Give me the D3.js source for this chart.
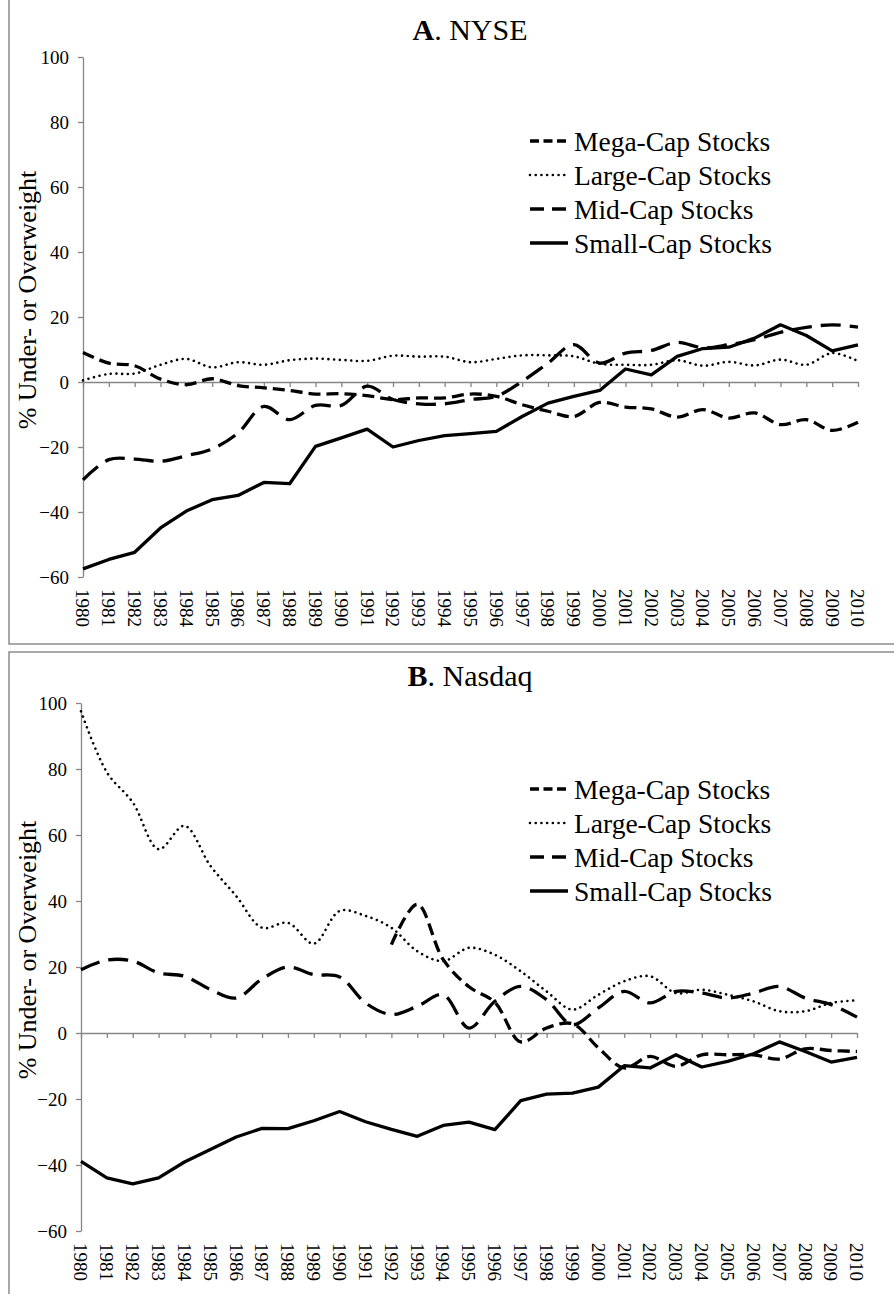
<!DOCTYPE html>
<html>
<head>
<meta charset="utf-8">
<script src="https://cdn.jsdelivr.net/npm/d3@7"></script>
</head>
<body style="margin:0;background:#fff">
<svg id="canvas" width="894" height="1294"></svg>
<script>
// categories
let years = [1980, 1981, 1982, 1983, 1984, 1985, 1986, 1987, 1988, 1989, 1990,
             1991, 1992, 1993, 1994, 1995, 1996, 1997, 1998, 1999, 2000,
             2001, 2002, 2003, 2004, 2005, 2006, 2007, 2008, 2009, 2010]
let yTicks = [-60, -40, -20, 0, 20, 40, 60, 80, 100]
let seriesNames = ['Mega-Cap Stocks', 'Large-Cap Stocks', 'Mid-Cap Stocks', 'Small-Cap Stocks']

// Panel A - NYSE
let nyseMega = [9.1, 5.8, 5.0, 0.9, -0.8, 1.0, -1.1, -1.8, -2.6, -3.7, -3.6, -4.2, -5.4, -4.9, -4.9,
                -3.7, -4.4, -7.0, -9.0, -10.6, -6.3, -7.7, -8.3, -10.8, -8.5, -11.1, -9.5, -13.1, -11.6, -14.9, -12.4]
let nyseLarge = [0.5, 2.5, 2.6, 5.3, 7.1, 4.5, 6.1, 5.3, 6.7, 7.2, 6.8, 6.5, 8.1, 7.8, 7.8,
                 6.1, 7.1, 8.2, 8.2, 7.9, 5.6, 5.3, 5.3, 6.7, 5.0, 6.2, 5.1, 6.9, 5.3, 8.9, 6.4]
let nyseMid = [-30.1, -23.9, -23.7, -24.4, -22.7, -20.6, -15.7, -7.5, -11.6, -7.2, -7.2, -1.3, -5.4, -6.7, -6.7,
               -5.4, -4.4, 0.2, 5.8, 11.5, 5.8, 8.9, 9.7, 12.2, 10.5, 11.5, 13.0, 15.3, 16.8, 17.6, 16.9]
let nyseSmall = [-57.5, -54.6, -52.4, -44.9, -39.7, -36.2, -34.9, -30.9, -31.3, -19.8, -17.2, -14.5, -20.0, -18.0, -16.5,
                 -15.9, -15.2, -10.6, -6.5, -4.4, -2.6, 4.0, 2.2, 7.9, 10.3, 10.7, 13.5, 17.6, 14.3, 9.6, 11.4]

// Panel B - Nasdaq (mega-cap has no values before 1992)
let nasdaqMega = [null, null, null, null, null, null, null, null, null, null, null, null,
                  26.8, 39.0, 22.3, 14.0, 9.3, -2.7, 1.5, 2.8, -4.5, -10.6, -7.1, -10.1, -6.6, -6.6, -6.6, -7.9, -4.8, -5.3, -5.6]
let nasdaqLarge = [97.5, 79.0, 69.9, 55.7, 62.8, 50.7, 41.5, 31.9, 33.4, 27.1, 37.0, 35.5, 31.9, 24.8, 21.8,
                   25.8, 23.7, 18.7, 12.6, 7.1, 11.6, 15.7, 17.2, 12.1, 13.1, 11.6, 9.6, 6.6, 6.6, 9.1, 9.9]
let nasdaqMid = [19.2, 22.1, 21.8, 18.2, 17.2, 13.2, 10.6, 16.4, 20.0, 17.7, 17.0, 9.1, 5.6, 8.1, 11.6,
                 1.5, 9.6, 14.1, 10.1, 2.5, 7.6, 12.6, 9.1, 12.6, 12.1, 10.6, 12.1, 14.1, 10.6, 8.6, 4.8]
let nasdaqSmall = [-38.9, -43.9, -45.7, -43.9, -39.1, -35.3, -31.5, -28.9, -29.0, -26.6, -23.8, -26.9, -29.2, -31.3, -28.0,
                   -27.0, -29.3, -20.5, -18.5, -18.2, -16.4, -9.9, -10.6, -6.6, -10.3, -8.6, -6.3, -2.7, -5.6, -8.8, -7.4]

// line looks, one per series (same order as seriesNames)
let lineStyles = [
    {dash: '12,6', legendDash: '9,4.5', width: 3.3, cap: 'butt', smooth: true},
    {dash: '0.01,5.7', legendDash: '0.01,5.7', width: 2.6, cap: 'round', smooth: true},
    {dash: '20,9', legendDash: '14,8', width: 3.3, cap: 'butt', smooth: true},
    {dash: null, legendDash: null, width: 3.3, cap: 'butt', smooth: false}
]

let svg = d3.select('#canvas')
let axisGrey = '#868686'
let serif = "'Liberation Serif', serif"

let drawPanel = (p) => {
    let g = svg.append('g')

    // panel frame (only left and one horizontal edge show in the picture)
    g.append('path')
     .attr('d', p.frame)
     .attr('fill', 'none')
     .attr('stroke', '#8c8c8c')
     .attr('stroke-width', 1.5)

    let x = d3.scalePoint().domain(years).range([p.left, p.right])
    let y = d3.scaleLinear().domain([-60, 100]).range([p.bottom, p.top])

    // y axis
    let yAxis = g.append('g')
                 .attr('transform', 'translate(' + p.left + ',0)')
                 .call(d3.axisLeft(y).tickValues(yTicks).tickSize(5).tickSizeOuter(0).tickPadding(9))
    yAxis.select('.domain').attr('stroke', axisGrey).attr('stroke-width', 1.3)
    yAxis.selectAll('.tick line').attr('stroke', axisGrey).attr('stroke-width', 1.3)
    yAxis.selectAll('.tick text')
         .style('font-family', serif)
         .style('font-size', '19px')
         .attr('fill', '#000')

    // x axis sits on the zero line, labels go to the bottom of the plot
    let xAxis = g.append('g')
                 .attr('transform', 'translate(0,' + y(0) + ')')
                 .call(d3.axisBottom(x).tickSize(5).tickSizeOuter(0).tickFormat(''))
    xAxis.select('.domain').attr('stroke', axisGrey).attr('stroke-width', 1.3)
    xAxis.selectAll('.tick line').attr('stroke', axisGrey).attr('stroke-width', 1.3)

    g.selectAll('.year')
     .data(years)
     .enter()
     .append('text')
     .attr('class', 'year')
     .attr('transform', (d) => 'translate(' + x(d) + ',' + (p.bottom + 12) + ') rotate(90)')
     .attr('dy', '0.35em')
     .style('font-family', serif)
     .style('font-size', '19px')
     .text((d) => d)

    // series lines
    p.series.forEach((values, i) => {
        let st = lineStyles[i]
        let line = d3.line()
                     .defined((d) => d !== null)
                     .x((d, j) => x(years[j]))
                     .y((d) => y(d))
                     .curve(st.smooth ? d3.curveCatmullRom.alpha(0.5) : d3.curveLinear)
        g.append('path')
         .attr('d', line(values))
         .attr('fill', 'none')
         .attr('stroke', '#000')
         .attr('stroke-width', st.width)
         .attr('stroke-linecap', st.cap)
         .attr('stroke-linejoin', 'round')
         .attr('stroke-dasharray', st.dash)
    })

    // title
    let title = g.append('text')
                 .attr('x', 470)
                 .attr('y', p.titleY)
                 .attr('text-anchor', 'middle')
                 .style('font-family', serif)
                 .style('font-size', '30px')
    title.append('tspan').style('font-weight', 'bold').text(p.letter)
    title.append('tspan').text('. ' + p.name)

    // y axis title
    g.append('text')
     .attr('transform', 'translate(27,' + p.yTitleY + ') rotate(-90)')
     .attr('text-anchor', 'middle')
     .attr('dy', '0.35em')
     .style('font-family', serif)
     .style('font-size', '26px')
     .text('% Under- or Overweight')

    // legend
    let legend = g.selectAll('.legend')
                  .data(seriesNames)
                  .enter()
                  .append('g')
                  .attr('class', 'legend')
                  .attr('transform', (d, i) => 'translate(530,' + (p.legendY + i * 34) + ')')
    legend.append('line')
          .attr('x1', 0).attr('x2', 38)
          .attr('stroke', '#000')
          .attr('stroke-width', (d, i) => lineStyles[i].width)
          .attr('stroke-linecap', (d, i) => lineStyles[i].cap)
          .attr('stroke-dasharray', (d, i) => lineStyles[i].legendDash)
    legend.append('text')
          .attr('x', 44)
          .attr('dy', '0.35em')
          .style('font-family', serif)
          .style('font-size', '27.5px')
          .text((d) => d)
}

drawPanel({
    letter: 'A', name: 'NYSE',
    series: [nyseMega, nyseLarge, nyseMid, nyseSmall],
    left: 83, right: 858, top: 57, bottom: 577,
    frame: 'M9,-5V644H900',
    titleY: 40, yTitleY: 300, legendY: 141
})

drawPanel({
    letter: 'B', name: 'Nasdaq',
    series: [nasdaqMega, nasdaqLarge, nasdaqMid, nasdaqSmall],
    left: 81, right: 857, top: 703, bottom: 1231,
    frame: 'M9,1300V652H900',
    titleY: 686, yTitleY: 950, legendY: 789
})
</script>
</body>
</html>
